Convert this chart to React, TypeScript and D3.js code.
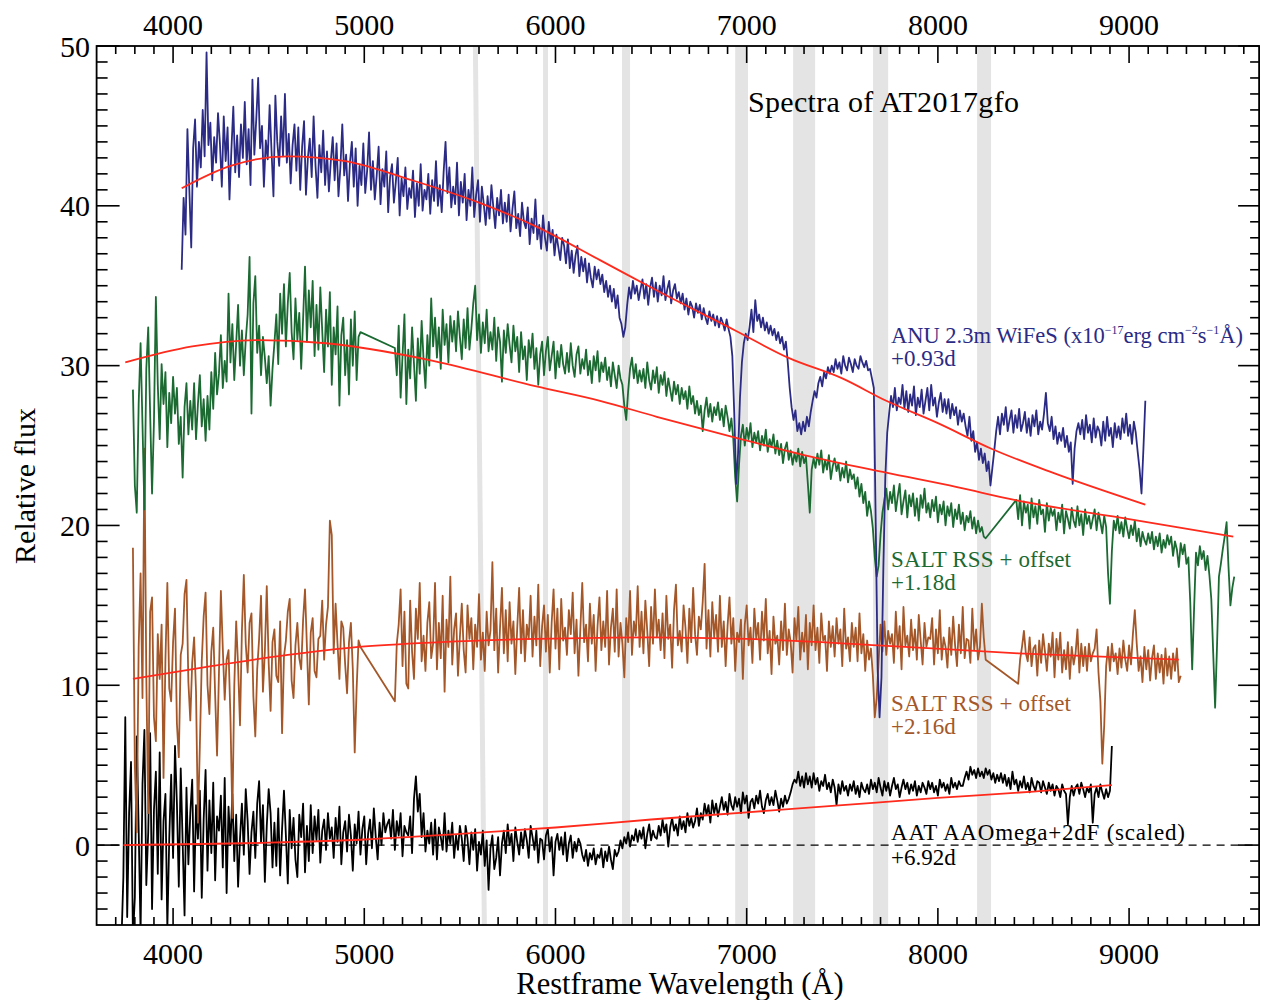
import React from "react";
import * as d3 from "d3";

const W = 1261;
const H = 1000;
const PLOT = { left: 96.6, right: 1259.1, top: 46, bottom: 925 };

const xDomain = [3600, 9680];
const yDomain = [-5, 50];
const xMajorTicks = [4000, 5000, 6000, 7000, 8000, 9000];
const yMajorTicks = [0, 10, 20, 30, 40, 50];

// grey telluric bands (top edge / bottom edge wavelengths)
const bandTopLo = [5568, 5935, 6348, 6940, 7243, 7661, 8205];
const bandTopHi = [5594, 5961, 6390, 7007, 7358, 7740, 8278];
const bandBotLo = [5615, 5935, 6348, 6940, 7243, 7661, 8205];
const bandBotHi = [5641, 5961, 6390, 7007, 7358, 7740, 8278];

const STEP = 10;

// ANU 2.3m WiFeS +0.93d
const blueStart = 4045;
const blueFlux = [
  36.0, 40.5, 38.2, 44.8, 41.0, 37.4, 43.6, 45.4, 41.2, 44.0,
  42.4, 46.0, 43.1, 49.6, 43.8, 45.2, 41.6, 44.3, 42.7, 45.8,
  43.9, 41.2, 45.6, 42.8, 44.9, 40.4, 43.5, 46.2, 42.1, 44.4,
  41.8, 45.1, 43.0, 46.5, 42.6, 44.8, 41.3, 47.9, 43.2, 45.4,
  48.0, 43.6, 45.0, 41.2, 44.1, 42.9, 46.3, 43.4, 40.6, 46.9,
  44.0, 42.5, 45.6, 43.1, 47.0, 42.7, 44.5, 41.4, 43.8, 45.1,
  42.2, 44.9, 41.0, 43.7, 45.3, 40.7, 43.0, 44.2, 41.8, 45.6,
  42.5, 40.5, 43.8, 42.1, 44.7, 41.3, 43.4, 40.9, 42.8, 44.3,
  41.6, 43.9, 40.6, 42.4, 45.1, 41.9, 43.2, 40.3, 42.7, 44.0,
  41.2, 43.6, 40.0, 42.5, 41.3, 43.9, 40.8, 42.2, 44.6, 41.0,
  42.8, 40.4, 41.9, 43.7, 40.1, 42.3, 41.2, 43.4, 39.6, 41.8,
  42.6, 40.2, 41.5, 43.0, 39.4, 41.7, 40.6, 42.4, 39.8, 41.1,
  40.5, 42.2, 39.3, 41.4, 40.0, 42.6, 39.7, 41.0, 40.4, 42.0,
  39.5, 41.6, 40.3, 42.8, 40.0, 41.3, 39.6, 42.1, 44.0, 40.8,
  42.4, 39.9, 41.2, 40.1, 42.7, 39.4, 41.5, 40.2, 42.0, 39.1,
  41.0, 40.0, 42.4, 39.3, 40.7, 41.6, 39.0, 41.2, 40.1, 38.8,
  40.6, 39.2, 41.3, 39.9, 38.6, 40.5, 39.4, 41.0, 38.9, 40.2,
  39.0, 40.7, 38.4, 39.8, 40.9, 38.6, 39.5, 38.1, 40.2, 39.0,
  38.6, 39.9, 37.6, 39.2, 38.3, 40.4, 37.9, 38.8, 37.3, 39.4,
  38.0, 37.2, 39.0, 37.7, 38.5, 36.9, 38.2, 37.4, 36.6, 38.0,
  37.5, 36.4, 37.9, 36.1, 37.2, 35.8, 36.9, 37.5, 35.6, 36.8,
  35.9, 36.7, 35.2, 36.4, 35.5, 34.9, 36.2, 35.4, 36.0, 35.1,
  35.7, 34.6, 35.3, 34.3, 35.0, 34.0, 34.8, 33.6, 34.4, 33.0,
  32.6, 31.8, 32.4, 33.8, 34.9, 34.2, 35.3, 34.5, 35.0, 34.1,
  34.8, 35.4, 34.2, 35.1, 33.8, 34.9, 35.5, 34.3, 35.2, 34.0,
  35.0, 34.4, 35.6, 34.1, 34.8, 35.3, 33.9, 34.7, 35.1, 34.2,
  34.6, 33.9, 34.5, 33.5, 34.2, 33.2, 34.0, 33.7, 33.0, 33.9,
  33.3, 33.8, 32.9, 33.6, 33.0, 32.6, 33.4, 32.8, 33.2, 32.5,
  33.1, 32.4, 33.0, 32.7, 32.2, 32.9, 32.3, 31.8, 30.6, 27.0,
  22.6, 24.5, 28.0, 30.2, 31.4, 32.0, 31.6, 32.4, 33.5, 32.1,
  34.1, 32.8, 33.2, 32.4, 33.0, 32.2, 32.7, 32.0, 32.5, 31.9,
  32.3, 31.6, 32.1, 31.4, 31.8, 31.0, 31.5, 30.2, 28.6, 27.4,
  26.6, 27.2, 25.9, 26.4, 25.7, 26.5, 25.9, 26.8, 26.2, 27.1,
  27.8, 28.4, 28.0, 28.9, 29.3, 28.7, 29.6, 29.2, 29.9, 29.5,
  30.0, 29.6, 30.4, 29.8, 30.2, 29.5, 30.6, 30.0, 29.7, 30.5,
  30.1, 29.6, 30.4, 30.0, 29.8, 30.6, 30.2, 29.9, 30.3, 29.7,
  29.8, 29.2, 28.6, 20.0, 11.0, 8.0, 10.5, 17.5, 23.0, 25.8,
  27.0, 28.1, 27.4, 28.6, 27.2, 28.0, 27.6, 28.8, 27.3, 28.4,
  27.1, 28.2, 27.5, 28.7, 26.9, 28.0, 27.4, 28.5, 27.0, 27.8,
  28.6, 27.2, 28.8, 27.5, 28.0, 26.8, 27.7, 28.3, 27.1, 27.9,
  27.0, 27.9, 26.7, 27.6, 26.9, 27.4, 26.3, 27.2, 26.5, 27.0,
  26.2, 25.6, 26.8, 25.3, 25.9, 24.6, 25.2, 24.1, 24.8, 23.9,
  24.5, 23.4, 24.0, 22.5, 23.6, 24.7, 25.9, 26.8, 25.7, 27.0,
  26.3, 27.4, 25.9, 26.6, 27.2, 25.8, 26.9, 26.1, 27.3, 25.9,
  26.4, 27.1, 25.8, 26.7, 25.6, 26.9, 26.2, 27.2, 25.7, 26.5,
  26.0, 27.0, 28.3, 26.4, 25.9, 26.8, 25.4, 26.2, 25.1, 25.8,
  25.3, 26.1, 24.9, 25.6, 24.6, 25.2, 22.6, 24.8, 25.9, 26.4,
  25.7, 26.6, 25.4, 26.9, 25.8, 26.3, 25.2, 26.7, 25.5, 26.2,
  25.9, 25.0, 26.5, 25.3, 26.8, 25.6, 26.1, 24.9, 26.4, 25.5,
  26.2, 25.4, 26.7, 25.8, 27.0, 25.6, 26.3, 25.1, 26.5, 25.8,
  24.6, 23.5, 22.0, 24.8, 27.8,
];

// SALT RSS + offset, +1.18d (three chunks, straight joins across the gaps)
const greenStartA = 3790;
const greenFluxA = [
  28.5, 22.5, 20.8, 27.6, 31.4, 26.3, 21.0, 29.8, 32.4, 27.0,
  22.0, 26.5, 34.3, 28.8, 25.4, 30.1, 27.6, 29.6, 24.9, 28.3,
  26.4, 29.3, 27.0, 28.6, 25.1, 26.8, 23.0, 27.4, 28.9, 25.7,
  27.8, 26.0, 28.9, 25.4, 27.6, 29.4, 26.2, 27.9, 25.3, 28.1,
  26.0, 29.6, 27.3, 30.8, 28.2, 29.5, 31.9, 28.6, 30.3, 29.0,
  34.5, 30.2, 32.6, 29.1, 31.4, 33.8, 30.0, 32.2, 29.4, 31.6,
  33.2, 36.8, 27.0, 33.9, 35.6, 30.8, 32.5, 29.4, 31.8, 30.5,
  28.9, 30.6, 27.5, 29.8, 31.4, 33.2, 30.1, 34.5, 32.0, 35.1,
  31.2, 33.9, 35.8, 32.1, 30.4, 34.2, 31.6, 33.3, 29.8, 32.9,
  36.2, 31.5, 34.7, 32.4, 35.3, 30.6, 33.8, 31.0, 34.9, 32.2,
  29.6, 33.5, 31.2, 34.6, 28.8, 32.4, 30.7, 33.7, 27.5, 31.9,
  33.0, 29.4, 31.6, 28.2, 32.9, 30.0, 33.4, 29.1, 31.8, 32.1,
];
const greenStartB = 5160;
const greenFluxB = [
  31.1, 29.4, 32.5, 28.0, 30.6, 33.2, 27.6, 31.0, 29.2, 32.4,
  30.1, 27.8, 31.7, 29.5, 32.8, 30.4, 28.6, 31.9, 30.0, 34.2,
  31.2, 33.0, 30.5, 32.4, 29.8, 33.5, 31.3, 32.6, 30.2, 33.1,
  31.5, 32.8, 30.9, 33.4, 31.8, 30.4, 32.9, 31.1, 33.6, 31.0,
  32.3, 33.9, 35.0, 31.6, 33.2, 30.8, 32.7, 31.4, 33.5, 30.9,
  32.1, 31.0, 33.0, 30.3, 32.4, 31.5, 29.0, 32.2, 30.8, 32.6,
  31.3, 30.2, 32.5, 30.9, 31.8, 29.6, 32.1, 30.4, 31.2, 29.1,
  31.6, 30.5, 32.0, 29.8, 31.1, 28.8, 30.7, 31.5, 29.4, 30.9,
  31.8, 29.7, 30.6, 31.5, 29.2, 30.9, 29.9, 31.3, 30.1, 29.5,
  30.8, 29.6, 31.4, 30.0, 29.3, 30.7, 31.2, 29.5, 30.4, 29.8,
  31.0, 29.4, 30.3, 28.9, 30.6, 29.7, 30.9, 29.0, 30.2, 29.6,
  30.5, 29.1, 29.9, 28.7, 30.2, 29.4, 28.6, 30.0, 29.2, 28.8,
  27.5, 26.6, 28.4, 29.8, 30.5, 29.2, 30.1, 28.9, 29.7, 29.0,
  29.8, 28.6, 30.2, 29.1, 28.5, 29.7, 28.9, 29.9, 28.3, 29.4,
  28.8, 29.6, 28.1, 29.2, 28.5, 27.8, 29.0, 28.2, 28.8, 27.6,
  28.6, 27.9, 28.4, 27.3, 28.7, 27.6, 28.1, 27.0, 27.8, 26.9,
  27.5, 25.9, 27.2, 28.0, 26.8, 27.6, 26.5, 27.4, 26.9, 27.7,
  26.6, 27.3, 26.2, 27.5, 26.8, 25.9, 26.7, 25.4, 23.0, 21.5,
  23.8, 25.6, 26.3, 25.0, 26.1, 25.4, 26.4, 24.9, 25.8, 25.2,
  25.9, 24.7, 25.6, 25.0, 26.0, 24.6, 25.4, 24.9, 25.7, 24.5,
  25.3, 24.4, 25.1, 23.9, 24.8, 25.2, 24.1, 24.7, 23.8, 24.5,
  24.0, 24.8, 23.7, 24.6, 23.9, 24.3, 22.6, 20.8, 23.5, 24.2,
  23.6, 24.5, 23.8, 24.7, 23.3, 24.1, 23.5, 24.4, 22.9, 23.7,
  24.2, 23.4, 23.9, 22.8, 23.6, 23.0, 24.0, 22.7, 23.5, 22.9,
  23.2, 22.3, 23.0, 21.8, 22.6, 21.4, 22.1, 20.6, 21.5, 20.9,
  19.8, 18.0, 16.8, 17.5, 19.4, 20.8, 21.6, 22.3, 21.0, 22.1,
  21.4, 22.5, 20.9, 21.8, 22.6, 20.7, 21.5, 22.2, 20.5, 21.9,
  21.2, 22.0, 20.6, 21.7, 20.3, 21.9, 21.1, 22.3, 20.8, 21.4,
  20.5, 21.6, 20.9, 21.8, 20.2, 21.3, 20.7, 21.5, 20.0, 21.2,
  20.6, 21.4, 19.9, 21.0, 20.4, 21.3, 20.1, 20.8, 19.7, 20.6,
  20.2, 20.9, 19.8, 20.5, 19.5, 20.3, 19.6, 19.9, 19.3, 19.2,
];
const greenStartC = 8410;
const greenFluxC = [
  21.6, 20.4, 21.9, 20.0, 21.5, 20.8, 21.3, 19.8, 21.7, 20.5,
  21.2, 20.1, 21.6, 20.7, 21.0, 19.6, 21.4, 20.3, 21.1, 20.6,
  21.0, 19.7, 20.8, 20.2, 21.3, 19.5, 20.9, 20.4, 19.8, 21.1,
  20.3, 19.9, 21.2, 20.0, 20.7, 19.4, 21.0, 20.1, 20.6, 19.8,
  20.4, 21.0, 19.7, 20.8, 20.2, 19.5, 20.6, 19.9, 17.0, 15.1,
  18.4, 20.3, 19.7, 20.6, 19.5, 20.2, 19.3, 20.5, 19.8, 19.2,
  20.0, 19.4, 20.3, 19.0, 19.8, 18.7, 19.6, 19.1, 18.8, 19.5,
  18.9, 19.6, 18.5, 19.3, 18.7, 19.5, 18.3, 19.1, 18.6, 19.4,
  18.8, 19.3, 18.1, 19.0, 18.5, 17.4, 18.9, 18.2, 18.8, 17.6,
  18.0, 15.2, 11.0, 14.8, 18.3, 17.5, 18.7, 17.9, 18.4, 17.2,
  18.1, 16.9, 15.4, 12.0, 8.6, 12.5, 16.8, 17.6, 18.5, 19.3,
  20.2, 17.4, 15.0, 16.1, 16.8,
];

// SALT RSS + offset, +2.16d
const brownStartA = 3790;
const brownFluxA = [
  18.6, 5.0, 0.8, 12.4, 17.0, 9.2, 24.8, 10.5, 2.0, 14.6,
  15.5, 8.0, 6.5, 13.2, 10.4, 13.8, 4.2, 11.6, 16.4, 9.8,
  9.0, 12.7, 14.8, 7.6, 5.5, 11.9, 12.6, 15.7, 16.6, 10.2,
  7.8, 11.4, 13.0, 9.6, 1.4, 6.2, 11.5, 14.3, 15.8, 10.0,
  8.2, 12.1, 13.6, 9.4, 5.6, 10.8, 15.9, 12.3, 9.1, 11.6,
  12.2, 8.0, 1.7, 9.9, 14.0, 11.2, 7.5, 13.4, 16.9, 12.6,
  10.8, 13.9, 14.5, 9.3, 6.8, 11.0, 12.9, 15.6, 9.6, 12.1,
  16.2, 11.4, 8.4, 12.7, 13.5, 10.6, 10.2, 14.0, 7.0, 11.8,
  12.8, 14.6, 15.4, 10.3, 9.2, 12.5, 13.9, 11.7, 11.0, 14.1,
  16.0, 12.4, 8.8, 13.3, 14.2, 10.9, 10.5, 12.9, 13.1, 15.3,
  11.6, 13.8, 14.9, 20.3, 19.4, 12.0, 15.1, 12.6, 10.4, 14.0,
  13.6, 11.3, 9.5, 12.7, 13.9, 11.0, 5.8, 9.8, 12.8, 12.4,
];
const brownStartB = 5160;
const brownFluxB = [
  9.0, 12.6, 13.8, 16.0, 11.2, 14.6, 10.1, 9.8, 15.3, 12.1,
  10.4, 14.8, 12.9, 16.4, 11.5, 13.1, 10.9, 13.9, 15.2, 11.7,
  12.6, 16.4, 11.0, 13.9, 11.7, 15.6, 9.6, 14.1, 12.4, 16.8,
  11.3, 13.5, 14.5, 10.6, 13.0, 15.1, 12.2, 10.8, 15.0, 12.9,
  14.2, 11.0, 13.8, 12.4, 15.7, 11.6, 13.3, 10.9, 14.6, 12.5,
  13.4, 17.7, 12.2, 14.8, 10.8, 13.6, 16.1, 12.0, 14.7, 11.5,
  15.2, 12.6, 14.0, 10.7, 13.6, 16.1, 12.0, 14.7, 11.5, 13.8,
  12.9, 15.6, 11.8, 14.3, 12.5, 16.3, 11.2, 13.7, 15.0, 12.1,
  14.4, 10.8, 13.9, 16.0, 12.3, 14.8, 11.0, 15.4, 12.8, 13.6,
  11.9, 14.7, 13.2, 15.8, 12.0, 14.1, 10.6, 13.5, 16.4, 12.7,
  13.8, 11.5, 15.1, 12.6, 14.4, 10.9, 13.7, 15.5, 12.2, 14.0,
  12.4, 15.9, 11.3, 13.6, 14.8, 12.1, 16.0, 11.8, 13.9, 12.6,
  10.5, 14.2, 12.7, 15.9, 11.9, 14.0, 13.1, 16.2, 12.4, 14.6,
  12.0, 15.3, 13.4, 11.2, 14.9, 12.6, 16.0, 13.0, 14.1, 12.2,
  14.5, 11.7, 15.6, 12.9, 13.8, 11.1, 14.7, 16.3, 12.5, 13.4,
  12.1, 15.0, 13.6, 11.4, 14.8, 12.7, 16.1, 13.2, 11.9, 14.3,
  13.5, 15.2, 17.6, 12.3, 14.7, 11.8, 15.2, 13.0, 14.4, 12.1,
  15.6, 12.4, 14.0, 11.2, 13.7, 15.5, 12.6, 14.2, 10.9, 13.3,
  12.7, 14.1, 10.4, 13.8, 15.0, 12.5, 13.6, 11.4, 14.8, 12.9,
  13.9, 11.6, 14.6, 12.8, 15.4, 12.0, 13.4, 10.7, 14.3, 12.6,
  13.1, 11.3, 14.0, 12.2, 15.1, 11.9, 13.5, 12.7, 10.8, 14.2,
  12.8, 14.9, 11.6, 13.3, 12.1, 14.4, 11.0, 13.9, 12.5, 15.0,
  12.2, 13.6, 11.4, 14.5, 12.8, 13.1, 10.9, 14.0, 12.4, 13.7,
  11.8, 14.2, 12.6, 13.5, 11.2, 14.8, 12.3, 13.0, 11.5, 13.9,
  12.4, 13.6, 11.5, 14.5, 12.0, 13.2, 10.9, 12.8, 11.6, 12.3,
  10.6, 8.0, 9.2, 11.5, 13.8, 12.1, 14.0, 11.9, 13.4, 12.6,
  13.2, 11.4, 14.6, 12.3, 13.7, 11.0, 14.9, 12.5, 13.1, 11.8,
  14.1, 12.2, 13.5, 11.6, 14.4, 12.8, 11.3, 13.9, 12.4, 13.0,
  12.9, 14.2, 11.3, 13.5, 12.0, 14.7, 11.6, 13.0, 12.4, 11.1,
  13.6, 11.9, 14.3, 12.5, 11.2, 13.8, 12.0, 14.9, 11.7, 12.9,
  12.8, 11.4, 14.8, 12.2, 13.5, 11.6, 12.4, 15.1, 13.0, 11.6,
];
const brownStartC = 8420;
const brownFluxC = [
  10.1, 11.6, 12.4, 13.4, 12.0, 11.5, 13.0, 11.2, 12.3, 12.5,
  10.6, 12.8, 11.4, 13.2, 12.1, 10.9, 12.6, 11.8, 13.3, 10.5,
  12.9, 11.6, 13.3, 10.8, 12.2, 11.0, 12.7, 10.4, 12.4, 11.3,
  12.0, 13.5, 10.8, 12.6, 11.2, 12.4, 10.9, 12.6, 11.5, 12.0,
  12.3, 13.5, 10.8, 9.0, 5.1, 7.5, 11.2, 12.4, 10.9, 12.6,
  11.5, 12.0, 10.7, 12.3, 11.1, 12.8, 11.6, 10.9, 12.5, 11.3,
  13.2, 14.7, 12.6, 10.9, 11.8, 10.2, 12.4, 11.0, 12.2, 10.3,
  11.7, 12.5, 10.4, 12.0, 10.8, 11.9, 10.1, 12.3, 10.6, 11.8,
  10.4, 12.0, 10.9, 12.3, 10.2, 10.6,
];

// AAT AAOmega+2dF (scaled), +6.92d
const blackStart = 3730;
const blackFlux = [
  -6.0, -2.0, 8.0, -4.5, 2.0, 5.2, -5.8, -3.3, 6.8, 1.0,
  -5.5, 3.8, 7.2, -2.5, 0.8, 7.0, -4.0, 2.2, 4.6, -1.8,
  5.8, -3.4, 1.5, 3.2, -5.2, 0.4, 4.4, -0.8, 6.2, 2.6,
  -2.6, 4.8, 0.2, -4.4, 3.6, -1.2, 2.0, 4.1, -2.9, 2.5,
  0.4, 3.4, -3.3, 1.6, 4.7, -1.6, 2.8, -0.5, 3.9, -2.2,
  1.8, 0.9, 3.1, -1.4, 4.2, -3.0, 2.4, 0.0, 3.2, -1.0,
  1.9, -2.6, 0.4, 2.6, -0.6, 3.5, 1.5, -1.8, 0.8, 2.1,
  -0.8, 2.6, 4.0, 0.2, 2.5, -2.3, 1.2, 3.5, 2.0, -1.4,
  1.4, -1.3, 2.3, -1.9, 1.0, 3.4, 0.6, -2.4, 2.2, -0.2,
  1.7, -0.9, -2.0, 1.9, 0.5, 2.6, -1.7, 1.2, -1.0, 2.5,
  -0.5, 1.8, 0.3, 2.2, -1.1, 0.9, 1.6, -0.3, 2.0, 0.4,
  1.1, -0.8, 1.7, 0.2, 2.4, -1.2, 0.8, 1.5, -0.4, 1.9,
  0.6, -1.6, 1.3, 0.1, 2.1, -0.6, 1.0, 1.8, -1.2, 0.7,
  1.6, -0.2, 2.3, 0.5, -0.9, 1.4, 0.0, 2.0, 0.8, 1.3,
  1.6, 0.4, 2.2, -0.3, 1.5, 0.6, 2.0, -0.7, 1.2, 0.8,
  0.6, 1.8, -0.5, 2.9, 4.3, 2.1, 3.2, 0.5, 2.0, -0.4,
  0.9, 0.1, 1.4, -0.6, 1.6, -0.9, 1.1, 0.5, -0.3, 2.0,
  -0.4, 0.9, 0.1, 1.4, -0.8, 0.6, -0.3, 1.2, 0.4, -1.0,
  1.2, 0.4, -1.2, 0.8, -0.3, 1.0, -1.6, 0.2, -0.6, 0.9,
  -1.3, 0.3, -2.8, -0.2, 0.6, -1.5, -0.8, 0.5, -1.9, 0.1,
  0.9, -0.5, 1.3, 0.0, 0.7, -1.0, 1.1, 0.2, -0.6, 0.8,
  -0.2, 1.0, 0.3, -0.8, 1.2, 0.5, -0.3, 0.9, -1.1, 0.4,
  0.3, -0.9, 0.6, 1.0, -0.4, 0.5, -1.9, 0.2, 0.7, -0.3,
  0.5, -0.6, 0.8, -1.0, 0.1, 0.6, -0.8, 0.2, -0.4, 0.4,
  0.1, -0.6, -1.0, -0.3, -1.3, -0.5, -0.9, -0.2, -1.2, -0.6,
  -0.8, -0.2, -1.4, -0.4, -1.0, -0.1, -0.9, -1.5, -0.3, -0.7,
  -0.4, 0.3, -0.2, 0.5, 0.1, 0.8, -0.1, 0.6, 0.3, 1.0,
  0.2, 0.9, 0.4, 1.1, -0.2, 0.7, 1.3, 0.3, 0.9, 0.5,
  0.4, 1.2, 0.6, 1.6, 0.8, 1.3, -0.1, 1.1, 1.7, 0.9,
  1.3, 0.6, 1.8, 1.0, 1.5, 0.8, 2.0, 1.2, 1.7, 1.1,
  1.5, 2.3, 1.2, 2.0, 1.6, 2.6, 1.9, 2.5, 1.4, 2.8,
  2.0, 2.6, 1.8, 2.4, 3.0, 2.2, 2.7, 1.9, 3.2, 2.5,
  2.2, 3.0, 2.4, 2.9, 2.0, 3.3, 2.6, 3.1, 1.7, 2.7,
  2.9, 2.3, 3.1, 2.6, 3.4, 2.4, 2.0, 2.8, 3.2, 2.5,
  3.0, 2.5, 3.4, 2.8, 2.1, 2.9, 2.4, 3.1, 2.6, 2.9,
  3.3, 3.8, 4.1, 3.9, 4.6, 3.7, 4.3, 3.6, 4.5, 3.8,
  4.3, 3.6, 4.5, 3.8, 4.2, 3.4, 4.0, 3.7, 4.4, 3.5,
  3.9, 3.3, 4.1, 3.6, 2.5, 3.8, 3.2, 4.0, 3.4, 3.7,
  3.1, 3.8, 3.4, 4.0, 3.2, 3.7, 3.0, 3.9, 3.5, 3.3,
  3.8, 3.2, 4.1, 3.5, 3.9, 3.3, 4.2, 3.6, 3.1, 4.0,
  3.4, 3.9, 3.1, 3.7, 4.2, 3.5, 3.8, 3.0, 3.6, 4.1,
  3.5, 3.9, 3.2, 3.8, 3.4, 4.0, 3.1, 3.7, 3.3, 3.9,
  3.6, 3.2, 4.0, 3.5, 3.9, 3.3, 3.7, 3.1, 4.1, 3.6,
  3.9, 3.4, 3.8, 3.2, 4.2, 3.6, 3.9, 3.5, 4.0, 3.7,
  3.7, 4.2, 4.6, 4.1, 4.9, 4.4, 4.7, 4.2, 4.8, 4.3,
  4.6, 4.2, 4.8, 4.4, 4.7, 4.1, 4.5, 3.9, 4.4, 4.0,
  4.5, 3.9, 4.4, 3.7, 4.2, 3.5, 4.6, 3.8, 4.1, 3.4,
  4.0, 3.6, 4.3, 3.5, 3.9, 3.3, 4.2, 3.7, 3.4, 4.0,
  3.9, 3.3, 4.0, 3.6, 3.2, 3.9, 3.4, 3.8, 3.1, 3.7,
  3.5, 3.0, 3.8, 3.4, 3.2, 1.3, 3.0, 3.7, 3.1, 3.6,
  3.8, 3.2, 3.9, 3.5, 3.0, 3.6, 3.3, 3.8, 1.4, 3.2,
  3.6, 3.0, 3.8, 3.3, 2.9, 3.5, 3.0, 3.4, 6.2,
];

// smooth (red) fits
const blueFitWave = [4045, 4300, 4600, 4900, 5250, 5600, 5900, 6233, 6530, 6940, 7216, 7500, 7730, 8000, 8280, 8600, 9085];
const blueFitFlux = [41.1, 42.5, 43.1, 42.8, 41.6, 40.2, 38.7, 36.6, 34.7, 32.2, 30.5, 29.2, 27.8, 26.4, 24.8, 23.3, 21.3];
const greenFitWave = [3750, 4100, 4450, 4800, 5100, 5360, 5900, 6233, 6530, 6940, 7300, 7730, 8100, 8400, 9000, 9545];
const greenFitFlux = [30.2, 31.2, 31.6, 31.4, 30.9, 30.3, 28.7, 27.8, 26.8, 25.5, 24.4, 23.3, 22.4, 21.6, 20.4, 19.3];
const brownFitWave = [3790, 4200, 4600, 4970, 5400, 5900, 6500, 7000, 7687, 8420, 9260];
const brownFitFlux = [10.4, 11.2, 11.9, 12.4, 12.7, 12.9, 13.0, 12.9, 12.5, 12.0, 11.6];
const blackFitWave = [3740, 4500, 5000, 5500, 6000, 6500, 7000, 7500, 8000, 8500, 8910];
const blackFitFlux = [0.0, 0.15, 0.35, 0.7, 1.1, 1.6, 2.05, 2.5, 2.95, 3.35, 3.75];

const titleText = "Spectra of AT2017gfo";
const xTitle = "Restframe Wavelength (Å)";
const yTitle = "Relative flux";
const greenLabel = ["SALT RSS + offset", "+1.18d"];
const brownLabel = ["SALT RSS + offset", "+2.16d"];
const blackLabel = ["AAT AAOmega+2dF (scaled)", "+6.92d"];
const blueEpoch = "+0.93d";

const COL = {
  blue: "#2b2b85",
  green: "#1b6a32",
  brown: "#a4582a",
  black: "#000000",
  red: "#ff2a1c",
  band: "#e4e4e4",
};

const FONT = "'Liberation Serif', 'Times New Roman', serif";

type Pt = [number, number];
const seg = (start: number, flux: number[]): Pt[] => flux.map((v, i) => [start + i * STEP, v] as Pt);
const zipPts = (w: number[], f: number[]): Pt[] => w.map((x, i) => [x, f[i]] as Pt);

export default function App() {
  const x = d3.scaleLinear().domain(xDomain).range([PLOT.left, PLOT.right]);
  const y = d3.scaleLinear().domain(yDomain).range([PLOT.bottom, PLOT.top]);

  const line = d3.line<Pt>().x((d) => x(d[0])).y((d) => y(d[1]));
  const smooth = d3.line<Pt>().x((d) => x(d[0])).y((d) => y(d[1])).curve(d3.curveMonotoneX);

  const blue = seg(blueStart, blueFlux);
  const green = [...seg(greenStartA, greenFluxA), ...seg(greenStartB, greenFluxB), ...seg(greenStartC, greenFluxC)];
  const brown = [...seg(brownStartA, brownFluxA), ...seg(brownStartB, brownFluxB), ...seg(brownStartC, brownFluxC)];
  const black = seg(blackStart, blackFlux);

  const fits = [
    zipPts(blueFitWave, blueFitFlux),
    zipPts(greenFitWave, greenFitFlux),
    zipPts(brownFitWave, brownFitFlux),
    zipPts(blackFitWave, blackFitFlux),
  ];

  const xMinor = d3.range(3700, 9700, 100).filter((v) => v % 1000 !== 0);
  const yMinor = d3.range(-4, 50, 1).filter((v) => v % 10 !== 0);

  const labelX = 891;
  const lblSize = 23;

  return (
    <svg
      width={W}
      height={H}
      viewBox={`0 0 ${W} ${H}`}
      style={{ position: "absolute", left: 0, top: 0, background: "#fff" }}
      fontFamily={FONT}
    >
      <defs>
        <clipPath id="plotClip">
          <rect x={PLOT.left} y={PLOT.top} width={PLOT.right - PLOT.left} height={PLOT.bottom - PLOT.top} />
        </clipPath>
      </defs>
      <rect x={0} y={0} width={W} height={H} fill="#fff" />

      {/* grey bands */}
      {bandTopLo.map((_, i) => (
        <polygon
          key={"band" + i}
          fill={COL.band}
          points={[
            [x(bandTopLo[i]), PLOT.top],
            [x(bandTopHi[i]), PLOT.top],
            [x(bandBotHi[i]), PLOT.bottom],
            [x(bandBotLo[i]), PLOT.bottom],
          ]
            .map((p) => p.join(","))
            .join(" ")}
        />
      ))}

      {/* zero line */}
      <line x1={PLOT.left} x2={PLOT.right} y1={y(0)} y2={y(0)} stroke="#000" strokeWidth={1.3} strokeDasharray="8,6" />

      <g clipPath="url(#plotClip)" fill="none" strokeLinejoin="round">
        <path d={line(black) || ""} stroke={COL.black} strokeWidth={1.8} />
        <path d={line(brown) || ""} stroke={COL.brown} strokeWidth={1.8} />
        <path d={line(green) || ""} stroke={COL.green} strokeWidth={1.8} />
        <path d={line(blue) || ""} stroke={COL.blue} strokeWidth={1.8} />
        {fits.map((f, i) => (
          <path key={"fit" + i} d={smooth(f) || ""} stroke={COL.red} strokeWidth={1.8} />
        ))}
      </g>

      {/* frame */}
      <rect
        x={PLOT.left}
        y={PLOT.top}
        width={PLOT.right - PLOT.left}
        height={PLOT.bottom - PLOT.top}
        fill="none"
        stroke="#000"
        strokeWidth={1.8}
      />

      {/* ticks */}
      <g stroke="#000" strokeWidth={1.6}>
        {xMajorTicks.map((t) => (
          <g key={"xM" + t}>
            <line x1={x(t)} x2={x(t)} y1={PLOT.bottom} y2={PLOT.bottom - 17} />
            <line x1={x(t)} x2={x(t)} y1={PLOT.top} y2={PLOT.top + 17} />
          </g>
        ))}
        {xMinor.map((t) => (
          <g key={"xm" + t}>
            <line x1={x(t)} x2={x(t)} y1={PLOT.bottom} y2={PLOT.bottom - 8} />
            <line x1={x(t)} x2={x(t)} y1={PLOT.top} y2={PLOT.top + 8} />
          </g>
        ))}
        {yMajorTicks.map((t) => (
          <g key={"yM" + t}>
            <line x1={PLOT.left} x2={PLOT.left + 23} y1={y(t)} y2={y(t)} />
            <line x1={PLOT.right} x2={PLOT.right - 21} y1={y(t)} y2={y(t)} />
          </g>
        ))}
        {yMinor.map((t) => (
          <g key={"ym" + t}>
            <line x1={PLOT.left} x2={PLOT.left + 11} y1={y(t)} y2={y(t)} />
            <line x1={PLOT.right} x2={PLOT.right - 9} y1={y(t)} y2={y(t)} />
          </g>
        ))}
      </g>

      {/* tick labels */}
      <g fontSize={30} fill="#000" textAnchor="middle">
        {xMajorTicks.map((t) => (
          <text key={"xtb" + t} x={x(t)} y={964}>
            {t}
          </text>
        ))}
        {xMajorTicks.map((t) => (
          <text key={"xtt" + t} x={x(t)} y={35}>
            {t}
          </text>
        ))}
      </g>
      <g fontSize={30} fill="#000" textAnchor="end">
        {yMajorTicks.map((t) => (
          <text key={"yt" + t} x={90} y={y(t) + 10.5}>
            {t}
          </text>
        ))}
      </g>

      {/* axis titles */}
      <text x={680} y={994} fontSize={30.5} textAnchor="middle">
        {xTitle}
      </text>
      <text transform={`translate(35,486) rotate(-90)`} fontSize={30} textAnchor="middle">
        {yTitle}
      </text>

      {/* title */}
      <text x={748} y={112} fontSize={30} textLength={271}>
        {titleText}
      </text>

      {/* series labels */}
      <g fontSize={lblSize}>
        <text x={labelX} y={343} fill={COL.blue} fontSize={22.5}>
          ANU 2.3m WiFeS (x10
          <tspan fontSize={12} dy={-9}>−17</tspan>
          <tspan dy={9}>erg cm</tspan>
          <tspan fontSize={12} dy={-9}>−2</tspan>
          <tspan dy={9}>s</tspan>
          <tspan fontSize={12} dy={-9}>−1</tspan>
          <tspan dy={9}>Å)</tspan>
        </text>
        <text x={labelX} y={366} fill={COL.blue}>
          {blueEpoch}
        </text>
        <text x={labelX} y={567} fill={COL.green} textLength={180}>
          {greenLabel[0]}
        </text>
        <text x={labelX} y={590} fill={COL.green}>
          {greenLabel[1]}
        </text>
        <text x={labelX} y={711} fill={COL.brown} textLength={180}>
          {brownLabel[0]}
        </text>
        <text x={labelX} y={734} fill={COL.brown}>
          {brownLabel[1]}
        </text>
        <text x={labelX} y={840} fill={COL.black} textLength={294}>
          {blackLabel[0]}
        </text>
        <text x={labelX} y={865} fill={COL.black}>
          {blackLabel[1]}
        </text>
      </g>
    </svg>
  );
}
